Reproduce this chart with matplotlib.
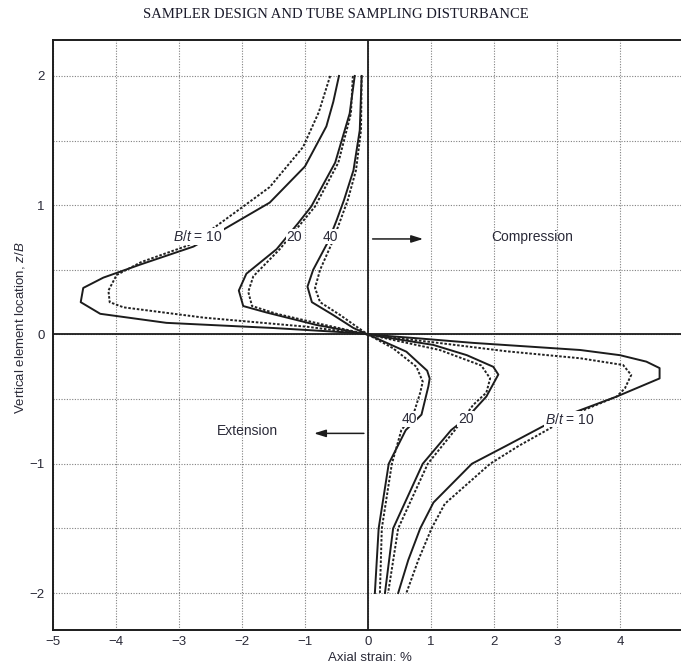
import matplotlib
matplotlib.use("Agg")
import matplotlib.pyplot as plt

plt.rcParams['font.family'] = ['Liberation Sans', 'DejaVu Sans']
plt.rcParams['mathtext.fontset'] = 'custom'
plt.rcParams['mathtext.it'] = 'Liberation Sans:italic'
plt.rcParams['mathtext.rm'] = 'Liberation Sans'

# upper half (extension side), read top to bottom
u10s_x = [-0.46, -0.55, -0.66, -1.00, -1.56, -2.30, -2.77, -3.62, -4.20, -4.52, -4.56, -4.25, -3.20, -1.50, -0.13, 0.0]
u10s_z = [2.00, 1.80, 1.61, 1.30, 1.02, 0.81, 0.68, 0.54, 0.44, 0.36, 0.25, 0.16, 0.09, 0.05, 0.01, 0.0]
u10d_x = [-0.60, -0.78, -1.03, -1.56, -1.98, -2.46, -2.85, -3.60, -3.99, -4.12, -4.10, -3.88, -2.60, -0.97, 0.0]
u10d_z = [2.00, 1.72, 1.45, 1.14, 0.99, 0.82, 0.69, 0.56, 0.46, 0.34, 0.25, 0.21, 0.13, 0.06, 0.0]

u20s_x = [-0.21, -0.29, -0.52, -0.90, -1.11, -1.45, -1.93, -2.05, -1.98, -1.61, -0.82, 0.0]
u20s_z = [2.00, 1.71, 1.33, 0.99, 0.86, 0.66, 0.47, 0.34, 0.22, 0.17, 0.074, 0.0]
u20d_x = [-0.24, -0.27, -0.47, -0.84, -1.06, -1.40, -1.82, -1.90, -1.84, -1.45, -0.65, 0.0]
u20d_z = [2.00, 1.71, 1.33, 0.99, 0.86, 0.66, 0.45, 0.33, 0.22, 0.16, 0.07, 0.0]

u40s_x = [-0.10, -0.13, -0.23, -0.38, -0.50, -0.63, -0.87, -0.96, -0.89, -0.55, -0.23, 0.0]
u40s_z = [2.00, 1.58, 1.27, 1.04, 0.88, 0.72, 0.50, 0.37, 0.25, 0.15, 0.05, 0.0]
u40d_x = [-0.10, -0.11, -0.19, -0.32, -0.44, -0.56, -0.76, -0.84, -0.76, -0.44, -0.15, 0.0]
u40d_z = [2.00, 1.58, 1.27, 1.04, 0.88, 0.72, 0.50, 0.36, 0.25, 0.15, 0.05, 0.0]

# lower half (compression side), read top to bottom
l10s_x = [0.0, 0.80, 1.67, 2.60, 3.37, 4.00, 4.42, 4.63, 4.63, 3.95, 3.29, 2.78, 2.20, 1.65, 1.04, 0.83, 0.64, 0.48]
l10s_z = [0.0, -0.03, -0.065, -0.095, -0.12, -0.16, -0.21, -0.26, -0.34, -0.48, -0.60, -0.71, -0.86, -1.00, -1.30, -1.50, -1.745, -2.00]
l10d_x = [0.0, 1.20, 2.20, 3.37, 4.05, 4.18, 4.08, 3.95, 3.30, 2.84, 2.40, 1.94, 1.22, 1.01, 0.80, 0.61]
l10d_z = [0.0, -0.07, -0.13, -0.184, -0.236, -0.313, -0.416, -0.48, -0.61, -0.74, -0.86, -1.00, -1.31, -1.50, -1.745, -2.00]

l20s_x = [0.0, 1.04, 1.57, 1.99, 2.07, 1.88, 1.58, 1.32, 0.87, 0.40, 0.27]
l20s_z = [0.0, -0.081, -0.16, -0.25, -0.31, -0.48, -0.64, -0.74, -1.00, -1.50, -2.00]
l20d_x = [0.0, 1.14, 1.80, 1.94, 1.88, 1.67, 1.38, 0.95, 0.48, 0.32]
l20d_z = [0.0, -0.12, -0.24, -0.34, -0.45, -0.545, -0.74, -1.00, -1.50, -2.00]

l40s_x = [0.0, 0.61, 0.94, 0.98, 0.96, 0.85, 0.60, 0.33, 0.17, 0.11]
l40s_z = [0.0, -0.133, -0.28, -0.34, -0.40, -0.62, -0.74, -1.00, -1.50, -2.00]
l40d_x = [0.0, 0.40, 0.77, 0.87, 0.83, 0.72, 0.53, 0.38, 0.22, 0.19]
l40d_z = [0.0, -0.107, -0.25, -0.365, -0.45, -0.62, -0.74, -1.00, -1.50, -2.00]

x_ticks = [-5, -4, -3, -2, -1, 0, 1, 2, 3, 4]
z_ticks = [-2, -1, 0, 1, 2]
z_grid = [-2, -1.5, -1, -0.5, 0, 0.5, 1, 1.5, 2]

ink = '#1c1c1c'
txt = '#2a2a38'

fig = plt.figure(figsize=(6.81, 6.66), dpi=100)
ax = fig.add_axes([53 / 681, 36 / 666, 628 / 681, 590 / 666])
ax.set_xlim(-5, 4.97)
ax.set_ylim(-2.286, 2.278)

for xv in x_ticks:
    ax.axvline(xv, color='#808080', lw=0.8, ls=(0, (1, 1.4)), zorder=1)
for zv in z_grid:
    ax.axhline(zv, color='#808080', lw=0.8, ls=(0, (1, 1.4)), zorder=1)

ax.axhline(0, color=ink, lw=1.3, zorder=2)
ax.axvline(0, color=ink, lw=1.3, zorder=2)

solid = dict(color=ink, lw=1.4, zorder=3, solid_joinstyle='round')
dotted = dict(color='#222222', lw=1.4, ls=(0, (1.3, 0.9)), zorder=3)
for xs, zs in [(u10s_x, u10s_z), (u20s_x, u20s_z), (u40s_x, u40s_z),
               (l10s_x, l10s_z), (l20s_x, l20s_z), (l40s_x, l40s_z)]:
    ax.plot(xs, zs, **solid)
for xs, zs in [(u10d_x, u10d_z), (u20d_x, u20d_z), (u40d_x, u40d_z),
               (l10d_x, l10d_z), (l20d_x, l20d_z), (l40d_x, l40d_z)]:
    ax.plot(xs, zs, **dotted)

box = dict(facecolor='white', edgecolor='none', pad=0.6)
lab = dict(fontsize=10, color=txt, ha='center', va='center', zorder=5, bbox=box)
ax.text(-2.70, 0.757, r'$B/t$ = 10', **lab)
ax.text(-1.17, 0.757, '20', **lab)
ax.text(-0.60, 0.757, '40', **lab)
ax.text(0.65, -0.654, '40', **lab)
ax.text(1.55, -0.654, '20', **lab)
ax.text(3.21, -0.654, r'$B/t$ = 10', **lab)

ax.text(2.6, 0.757, 'Compression', fontsize=10, color=txt, ha='center', va='center')
ax.text(-1.92, -0.75, 'Extension', fontsize=10, color=txt, ha='center', va='center')
arrow = dict(arrowstyle='-|>,head_length=0.7,head_width=0.22', color=ink, lw=1.1)
ax.annotate('', xy=(0.92, 0.739), xytext=(0.03, 0.739), arrowprops=arrow)
ax.annotate('', xy=(-0.90, -0.765), xytext=(-0.02, -0.765), arrowprops=arrow)

ax.set_xticks(x_ticks)
ax.set_xticklabels(['\u2212' + str(-v) if v < 0 else str(v) for v in x_ticks])
ax.set_yticks(z_ticks)
ax.set_yticklabels(['\u2212' + str(-v) if v < 0 else str(v) for v in z_ticks])
ax.tick_params(length=0, labelsize=9.5, labelcolor=txt)
ax.tick_params(axis='x', pad=4)
ax.tick_params(axis='y', pad=6)

ax.spines['right'].set_visible(False)
for s in ['top', 'left', 'bottom']:
    ax.spines[s].set_linewidth(1.4)
    ax.spines[s].set_color(ink)

fig.text(336 / 681, 1 - 14 / 666, 'SAMPLER DESIGN AND TUBE SAMPLING DISTURBANCE',
         family=['Liberation Serif', 'DejaVu Serif'], fontsize=10.5, color='#1a1a2a',
         ha='center', va='center')
fig.text(370 / 681, 1 - 658 / 666, 'Axial strain: %', fontsize=9.5, color=txt,
         ha='center', va='center')
fig.text(20 / 681, 1 - 328 / 666, r'Vertical element location, $z/B$', fontsize=9.5,
         color=txt, rotation=90, ha='center', va='center')

fig.savefig('out.png', dpi=100)
